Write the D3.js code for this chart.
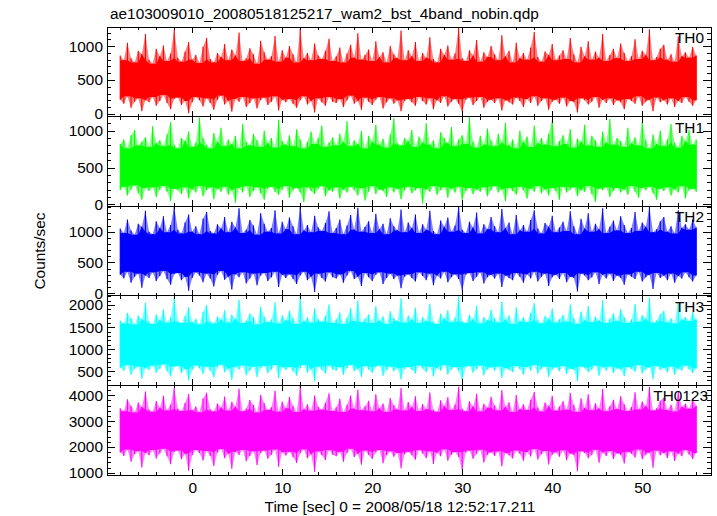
<!DOCTYPE html>
<html><head><meta charset="utf-8">
<script src="https://cdn.jsdelivr.net/npm/d3@7"></script>
<style>body{margin:0;background:#fff} svg{display:block} text{font-family:"Liberation Sans",Arial,Helvetica,sans-serif;}</style>
</head><body>
<svg id="c" width="717" height="516"></svg>
<script>
const title = "ae103009010_20080518125217_wam2_bst_4band_nobin.qdp";
const xLabel = "Time [sec] 0 = 2008/05/18 12:52:17.211";
const yLabel = "Counts/sec";
const bandNames = ["TH0", "TH1", "TH2", "TH3", "TH0123"];
const colors = ["#ff0000", "#00ff00", "#0000ff", "#00ffff", "#ff00ff"];
const tStart = -8.0, binWidth = 0.4;
const xDomain = [-9.47, 57.64];
const xMajorTicks = [-10, 0, 10, 20, 30, 40, 50];
const xMinorStep = 2;
const yDomains = [[-40, 1282], [-26, 1192], [-41, 1414], [181, 2208], [911, 4384]];
const yMajorTicks = [[0, 500, 1000], [0, 500, 1000], [0, 500, 1000], [500, 1000, 1500, 2000], [1000, 2000, 3000, 4000]];
const yMinorStep = [100, 100, 100, 100, 200];

// per 0.4 s bin: upper and lower extremes of the light curve (counts/sec)
const th0Hi = [860,790,1050,820,760,930,880,1180,800,740,960,850,1010,780,890,1240,830,770,920,1060,
800,870,750,990,1120,810,760,900,840,1030,790,950,860,1200,780,820,970,880,740,1080,
910,800,850,1150,770,940,830,1000,880,760,1260,820,900,790,1040,860,810,930,1110,780,
850,980,760,890,1020,830,1190,800,870,950,780,1070,840,910,760,1000,880,820,1230,790,
940,850,1060,780,900,830,1130,810,760,960,870,1010,800,890,1270,820,780,940,860,1090,
770,910,840,1000,880,790,1160,850,930,760,1050,820,900,800,980,1210,840,770,920,870,
1030,790,860,940,810,1120,880,760,990,850,1070,800,920,830,1180,780,870,960,820,1040,
900,780,850,1100,810,930,870,1250,790,840,960,1020,800,880,770,1140,850,910,830,990,860];
const th0Lo = [210,150,260,90,180,230,40,200,170,250,120,190,280,160,70,220,240,130,190,10,
170,250,200,110,230,160,60,210,270,140,190,30,220,180,250,100,160,230,80,200,
240,130,180,260,50,210,170,220,150,90,200,260,140,190,20,230,170,120,250,180,
160,220,100,200,270,150,190,60,240,180,130,210,250,80,170,230,150,200,40,190,
220,170,120,250,190,140,230,70,200,160,260,110,180,220,150,30,210,240,130,190,
250,90,180,210,160,230,50,200,170,140,240,190,100,220,160,260,120,190,230,60,
180,210,150,240,110,190,170,20,230,200,140,180,250,90,210,160,230,130,200,170,
70,220,190,150,260,120,180,210,40,240,170,200,140,230,100,190,160,250,180,120,200];
const th1Hi = [820,880,760,940,1010,800,850,910,780,1060,830,870,790,950,1120,810,760,900,860,990,
780,840,1180,900,810,760,970,850,1040,790,880,820,930,760,1090,850,800,960,870,780,
1000,830,900,770,1150,860,810,940,790,1020,880,760,850,990,820,900,1070,780,840,910,
800,960,850,1130,790,870,820,1000,760,930,850,1080,810,890,770,950,1170,830,800,900,
860,1010,780,920,840,1100,810,870,760,980,900,830,1050,790,880,940,820,1190,850,770,
930,810,1030,870,790,960,840,1110,800,880,760,1000,850,920,780,1070,830,900,810,960,
1140,790,860,940,820,1020,770,890,850,1080,800,930,870,780,990,840,1160,810,900,860,
780,1040,830,910,800,1120,870,760,950,820,1000,790,880,1090,840,770,930,860,1010,810,880];
const th1Lo = [190,240,120,200,260,150,60,220,180,230,100,200,250,170,40,210,190,140,230,80,
200,160,250,110,190,230,70,210,170,240,130,190,20,220,160,250,100,180,230,150,
60,210,240,170,130,200,250,90,190,220,160,30,230,180,140,210,250,110,190,170,
230,80,200,160,240,190,120,220,50,170,250,140,200,180,100,230,160,210,70,190,
240,150,190,220,10,200,170,250,130,190,230,90,210,160,240,60,180,220,140,200,
170,230,110,190,250,160,200,40,220,180,130,240,190,80,210,170,250,150,200,120,
220,180,60,240,160,200,230,110,190,170,250,140,30,210,190,230,100,180,220,160,
200,130,250,170,90,220,190,240,150,60,210,180,230,120,200,160,250,80,190,210,170];
const th2Hi = [1050,980,1200,1020,950,1130,1080,1340,1000,960,1170,1060,1250,990,1110,1400,1030,970,1150,1280,
1000,1090,960,1210,1320,1010,970,1120,1050,1240,990,1160,1070,1380,980,1030,1190,1100,950,1300,
1130,1000,1060,1350,970,1160,1040,1230,1090,960,1410,1020,1110,990,1260,1070,1010,1140,1330,980,
1060,1200,960,1100,1270,1030,1390,1000,1080,1170,980,1290,1040,1130,960,1220,1090,1020,1360,990,
1150,1060,1280,980,1120,1030,1340,1010,960,1180,1080,1230,1000,1100,1400,1030,980,1160,1070,1310,
970,1120,1040,1240,1090,990,1370,1060,1150,960,1270,1020,1110,1000,1190,1350,1050,970,1140,1080,
1260,990,1070,1160,1010,1330,1090,960,1210,1050,1300,1000,1130,1040,1380,980,1080,1180,1020,1250,
1110,980,1060,1320,1010,1150,1080,1400,990,1040,1170,1240,1000,1090,970,1350,1060,1120,1030,1200,1070];
const th2Lo = [300,240,350,170,270,320,90,290,250,340,200,280,360,230,140,310,330,210,270,40,
250,340,290,180,320,240,110,300,360,220,270,60,310,260,340,160,240,320,130,290,
330,200,260,350,100,300,250,310,230,150,290,350,210,270,20,320,250,190,340,260,
240,310,170,290,360,230,270,120,330,260,200,300,340,150,250,320,230,290,80,270,
310,250,190,340,280,210,320,130,290,240,350,180,260,310,230,50,300,330,200,270,
340,160,260,300,240,320,100,290,250,210,330,270,170,310,240,350,190,270,320,120,
260,300,230,330,180,270,250,30,320,290,210,260,340,150,300,240,320,200,290,250,
140,310,270,230,350,190,260,300,70,330,250,290,210,320,170,280,240,340,260,190,290];
const th3Hi = [1650,1580,1820,1700,1560,1760,1680,2050,1620,1570,1790,1660,1900,1600,1720,2180,1640,1590,1750,1950,
1610,1690,1560,1840,2000,1630,1580,1740,1670,1880,1600,1780,1690,2120,1590,1650,1810,1720,1560,1960,
1740,1610,1670,2060,1580,1770,1650,1870,1700,1570,2200,1630,1720,1600,1920,1680,1620,1750,2010,1590,
1670,1830,1570,1710,1930,1640,2100,1610,1690,1790,1590,1970,1650,1740,1570,1860,1700,1630,2150,1600,
1760,1670,1940,1590,1730,1640,2030,1620,1570,1800,1690,1880,1610,1710,2190,1640,1590,1780,1680,1990,
1580,1730,1650,1890,1700,1600,2080,1670,1760,1570,1950,1630,1720,1610,1820,2040,1660,1580,1750,1690,
1920,1600,1680,1780,1620,2010,1700,1570,1850,1660,1980,1610,1740,1650,2110,1590,1690,1810,1630,1910,
1720,1590,1670,2020,1620,1770,1690,2170,1600,1650,1790,1870,1610,1700,1580,2060,1670,1730,1640,1840,1680];
const th3Lo = [580,510,640,420,550,610,330,570,530,630,470,560,660,500,380,600,620,460,550,290,
530,630,570,440,610,510,360,590,650,480,550,310,600,540,630,410,510,610,370,570,
620,460,540,640,340,590,530,600,500,400,570,640,470,550,270,610,530,450,630,540,
510,600,420,570,650,500,550,370,620,540,460,590,630,400,530,610,500,570,320,550,
600,530,450,630,560,480,610,380,570,510,640,430,540,600,500,300,590,620,470,550,
630,410,540,590,510,610,350,570,530,480,620,550,430,600,510,640,450,550,610,370,
540,590,500,620,440,560,530,280,610,570,480,540,630,400,590,510,610,460,570,530,
390,600,550,490,640,450,540,590,320,620,530,570,480,610,420,560,510,630,540,460,570];
const th0123Hi = [3500,3380,3850,3600,3330,3720,3550,4150,3450,3360,3780,3520,3980,3410,3640,4300,3480,3390,3700,4050,
3420,3570,3340,3880,4100,3460,3370,3680,3530,3950,3400,3750,3560,4250,3380,3490,3820,3620,3330,4020,
3690,3430,3540,4180,3360,3760,3500,3930,3600,3350,4350,3460,3650,3400,3990,3560,3440,3710,4080,3390,
3540,3870,3350,3630,3990,3480,4220,3420,3580,3790,3380,4040,3500,3680,3350,3900,3610,3450,4280,3410,
3740,3550,3960,3390,3660,3470,4110,3440,3360,3810,3590,3920,3430,3640,4330,3480,3380,3770,3570,4060,
3370,3670,3520,3940,3610,3410,4200,3560,3730,3350,4010,3460,3650,3430,3830,4130,3530,3370,3720,3580,
3980,3400,3570,3770,3440,4090,3620,3350,3890,3510,4040,3420,3690,3490,4240,3380,3580,3830,3460,3960,
3650,3390,3550,4120,3450,3760,3590,4320,3410,3500,3790,3910,3430,3630,3370,4160,3560,3670,3480,3880,3600];
const th0123Lo = [1780,1650,1900,1420,1720,1840,1200,1760,1680,1880,1550,1740,1930,1640,1330,1800,1860,1520,1730,1080,
1680,1880,1760,1470,1840,1650,1260,1780,1920,1560,1730,1150,1810,1690,1880,1440,1650,1830,1300,1760,
1860,1540,1700,1900,1230,1790,1670,1810,1610,1380,1750,1910,1560,1720,1040,1830,1680,1490,1880,1700,
1640,1810,1420,1760,1930,1610,1730,1310,1860,1690,1530,1790,1880,1370,1680,1830,1620,1760,1170,1720,
1810,1680,1500,1880,1740,1560,1830,1340,1770,1640,1910,1460,1700,1800,1610,1100,1780,1860,1540,1730,
1890,1400,1700,1790,1650,1830,1250,1760,1680,1550,1860,1730,1460,1800,1630,1920,1510,1720,1840,1320,
1700,1790,1620,1870,1480,1740,1680,1060,1830,1760,1560,1700,1890,1390,1780,1650,1840,1530,1750,1690,
1360,1810,1730,1590,1900,1520,1700,1780,1190,1860,1680,1760,1570,1830,1450,1740,1640,1880,1710,1530,1760];

const seriesHi = [th0Hi, th1Hi, th2Hi, th3Hi, th0123Hi];
const seriesLo = [th0Lo, th1Lo, th2Lo, th3Lo, th0123Lo];

const svg = d3.select("#c");
const L = 107, R = 711, T = 27, B = 475;
const ph = (B - T) / 5;
const fs = "15.4px";
const x = d3.scaleLinear().domain(xDomain).range([L, R]);
const fmt = d3.format("d");

const xMinor = d3.range(Math.ceil(xDomain[0] / xMinorStep) * xMinorStep, xDomain[1], xMinorStep)
  .filter(v => !xMajorTicks.includes(v));
const xMajors = xMajorTicks.filter(v => v >= xDomain[0] && v <= xDomain[1]);

function styleAxis(g) {
  g.select(".domain").remove();
  g.selectAll("line").attr("stroke", "#000").attr("shape-rendering", "crispEdges");
  g.attr("font-family", null).attr("font-size", null);
  g.selectAll("text").attr("fill", "#000").style("font-size", fs);
}

seriesHi.forEach((hi, i) => {
  const lo = seriesLo[i];
  const n = hi.length;
  const top = T + i * ph, bot = top + ph;
  const y = d3.scaleLinear().domain(yDomains[i]).range([bot, top]);
  const idx = d3.range(n);
  const tOf = j => tStart + j * binWidth;
  const coreHi = j => d3.min([hi[Math.max(j - 1, 0)], hi[j], hi[Math.min(j + 1, n - 1)]]);
  const coreLo = j => d3.max([lo[Math.max(j - 1, 0)], lo[j], lo[Math.min(j + 1, n - 1)]]);

  svg.append("clipPath").attr("id", "cp" + i)
    .append("rect").attr("x", L).attr("y", top).attr("width", R - L).attr("height", ph);
  const g = svg.append("g").attr("clip-path", `url(#cp${i})`);

  // full envelope (light, like antialiased thin lines)
  g.append("path").datum(idx)
    .attr("fill", colors[i]).attr("fill-opacity", 0.5)
    .attr("d", d3.area().x(j => x(tOf(j))).y0(j => y(lo[j])).y1(j => y(hi[j])));
  // dense core
  g.append("path").datum(idx)
    .attr("fill", colors[i])
    .attr("d", d3.area().x(j => x(tOf(j))).y0(j => y(coreLo(j))).y1(j => y(coreHi(j))));
  // needles
  g.selectAll("line.n").data(idx).join("line").attr("class", "n")
    .attr("x1", j => x(tOf(j))).attr("x2", j => x(tOf(j)))
    .attr("y1", j => y(lo[j])).attr("y2", j => y(hi[j]))
    .attr("stroke", colors[i]).attr("stroke-width", 1.1);

  const majors = yMajorTicks[i];
  const st = yMinorStep[i];
  const minors = d3.range(Math.ceil(yDomains[i][0] / st) * st, yDomains[i][1], st)
    .filter(v => !majors.includes(v));

  svg.append("g").attr("transform", `translate(${L},0)`)
    .call(d3.axisLeft(y).tickValues(majors).tickSize(-8).tickPadding(4).tickFormat(fmt)).call(styleAxis);
  svg.append("g").attr("transform", `translate(${L},0)`)
    .call(d3.axisLeft(y).tickValues(minors).tickSize(-4).tickFormat("")).call(styleAxis);
  svg.append("g").attr("transform", `translate(${R},0)`)
    .call(d3.axisRight(y).tickValues(majors).tickSize(-8).tickFormat("")).call(styleAxis);
  svg.append("g").attr("transform", `translate(${R},0)`)
    .call(d3.axisRight(y).tickValues(minors).tickSize(-4).tickFormat("")).call(styleAxis);
  svg.append("g").attr("transform", `translate(0,${top})`)
    .call(d3.axisTop(x).tickValues(xMajors).tickSize(-6).tickFormat("")).call(styleAxis);
  svg.append("g").attr("transform", `translate(0,${top})`)
    .call(d3.axisTop(x).tickValues(xMinor).tickSize(-3).tickFormat("")).call(styleAxis);
  const bx = d3.axisBottom(x).tickValues(xMajors).tickSize(-6).tickPadding(7)
    .tickFormat(i < 4 ? "" : fmt);
  svg.append("g").attr("transform", `translate(0,${bot})`).call(bx).call(styleAxis);
  svg.append("g").attr("transform", `translate(0,${bot})`)
    .call(d3.axisBottom(x).tickValues(xMinor).tickSize(-3).tickFormat("")).call(styleAxis);

  svg.append("rect").attr("x", L).attr("y", top).attr("width", R - L).attr("height", ph)
    .attr("fill", "none").attr("stroke", "#000").attr("shape-rendering", "crispEdges");

  svg.append("text").attr("x", i === 4 ? R - 3 : R - 7).attr("y", top + 16)
    .attr("text-anchor", "end").style("font-size", fs).text(bandNames[i]);
});

svg.append("text").attr("x", 110).attr("y", 19).style("font-size", fs).text(title);
svg.append("text").attr("x", 400).attr("y", 512).attr("text-anchor", "middle")
  .style("font-size", fs).text(xLabel);
svg.append("text").attr("transform", `translate(45,${(T + B) / 2}) rotate(-90)`)
  .attr("text-anchor", "middle").style("font-size", fs).text(yLabel);
</script>
</body></html>
